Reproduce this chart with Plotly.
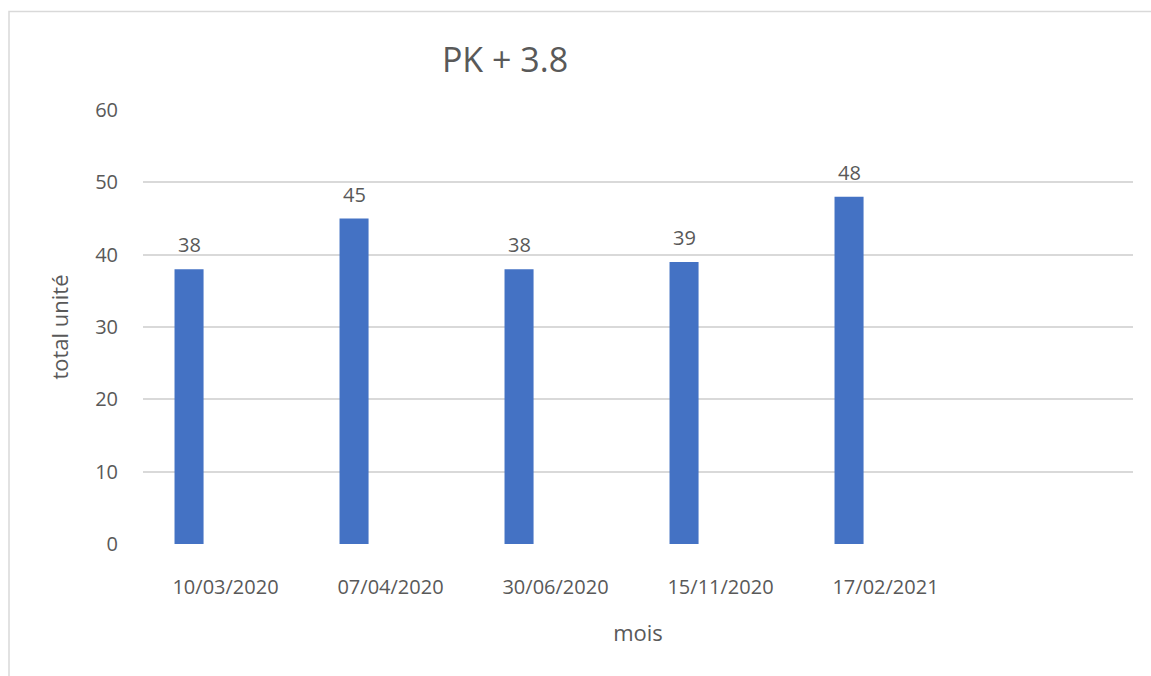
import plotly.graph_objects as go

categories = ["10/03/2020", "07/04/2020", "30/06/2020", "15/11/2020", "17/02/2021"]
values = [38, 45, 38, 39, 48]
y_ticks = [0, 10, 20, 30, 40, 50, 60]

title_text = "PK + 3.8"
x_title = "mois"
y_title = "total unité"

TEXT = "#595959"
GRID = "#D9D9D9"
BAR = "#4472C4"
FONT = "Open Sans"

BAR_WIDTH = 0.176
BAR_OFFSET = -0.309

fig = go.Figure()
fig.add_trace(go.Bar(
    x=categories,
    y=values,
    width=BAR_WIDTH,
    offset=BAR_OFFSET,
    marker=dict(color=BAR, line=dict(width=0)),
))

# data labels centred on each bar, slightly above
annotations = [
    dict(
        x=i + BAR_OFFSET + BAR_WIDTH / 2,
        y=v,
        xref="x", yref="y",
        text=str(v),
        showarrow=False,
        xanchor="center",
        yanchor="bottom",
        yshift=9,
        font=dict(size=20, color=TEXT, family=FONT),
    )
    for i, v in enumerate(values)
]

fig.update_layout(
    width=1151,
    height=676,
    margin=dict(l=143, r=18, t=110, b=132),
    paper_bgcolor="white",
    plot_bgcolor="white",
    showlegend=False,
    font=dict(family=FONT, color=TEXT),
    title=dict(
        text=title_text,
        x=505 / 1151,
        xref="container",
        xanchor="center",
        y=1 - 60 / 676,
        yref="container",
        yanchor="middle",
        font=dict(size=34, color=TEXT, family=FONT),
    ),
    xaxis=dict(
        type="category",
        range=[-0.5, 5.5],
        showgrid=False,
        showline=False,
        zeroline=False,
        ticks="",
        tickfont=dict(size=20, color=TEXT, family=FONT),
        ticklabelstandoff=29,
        title=dict(text=x_title, font=dict(size=22, color=TEXT, family=FONT), standoff=26),
    ),
    yaxis=dict(
        range=[0, 60],
        tickvals=y_ticks,
        showgrid=True,
        gridcolor=GRID,
        gridwidth=1.5,
        zeroline=False,
        showline=False,
        ticks="",
        tickfont=dict(size=20, color=TEXT, family=FONT),
        ticklabelstandoff=24,
        title=dict(text=y_title, font=dict(size=22, color=TEXT, family=FONT), standoff=20),
    ),
    annotations=annotations,
    shapes=[dict(
        type="rect",
        xref="paper", yref="paper",
        x0=(9 - 143) / 990, x1=1.2,
        y0=-0.6, y1=(543.5 - 11) / 434,
        line=dict(color=GRID, width=1.5),
        fillcolor="rgba(0,0,0,0)",
        layer="below",
    )],
)

fig.write_html("out.html")
